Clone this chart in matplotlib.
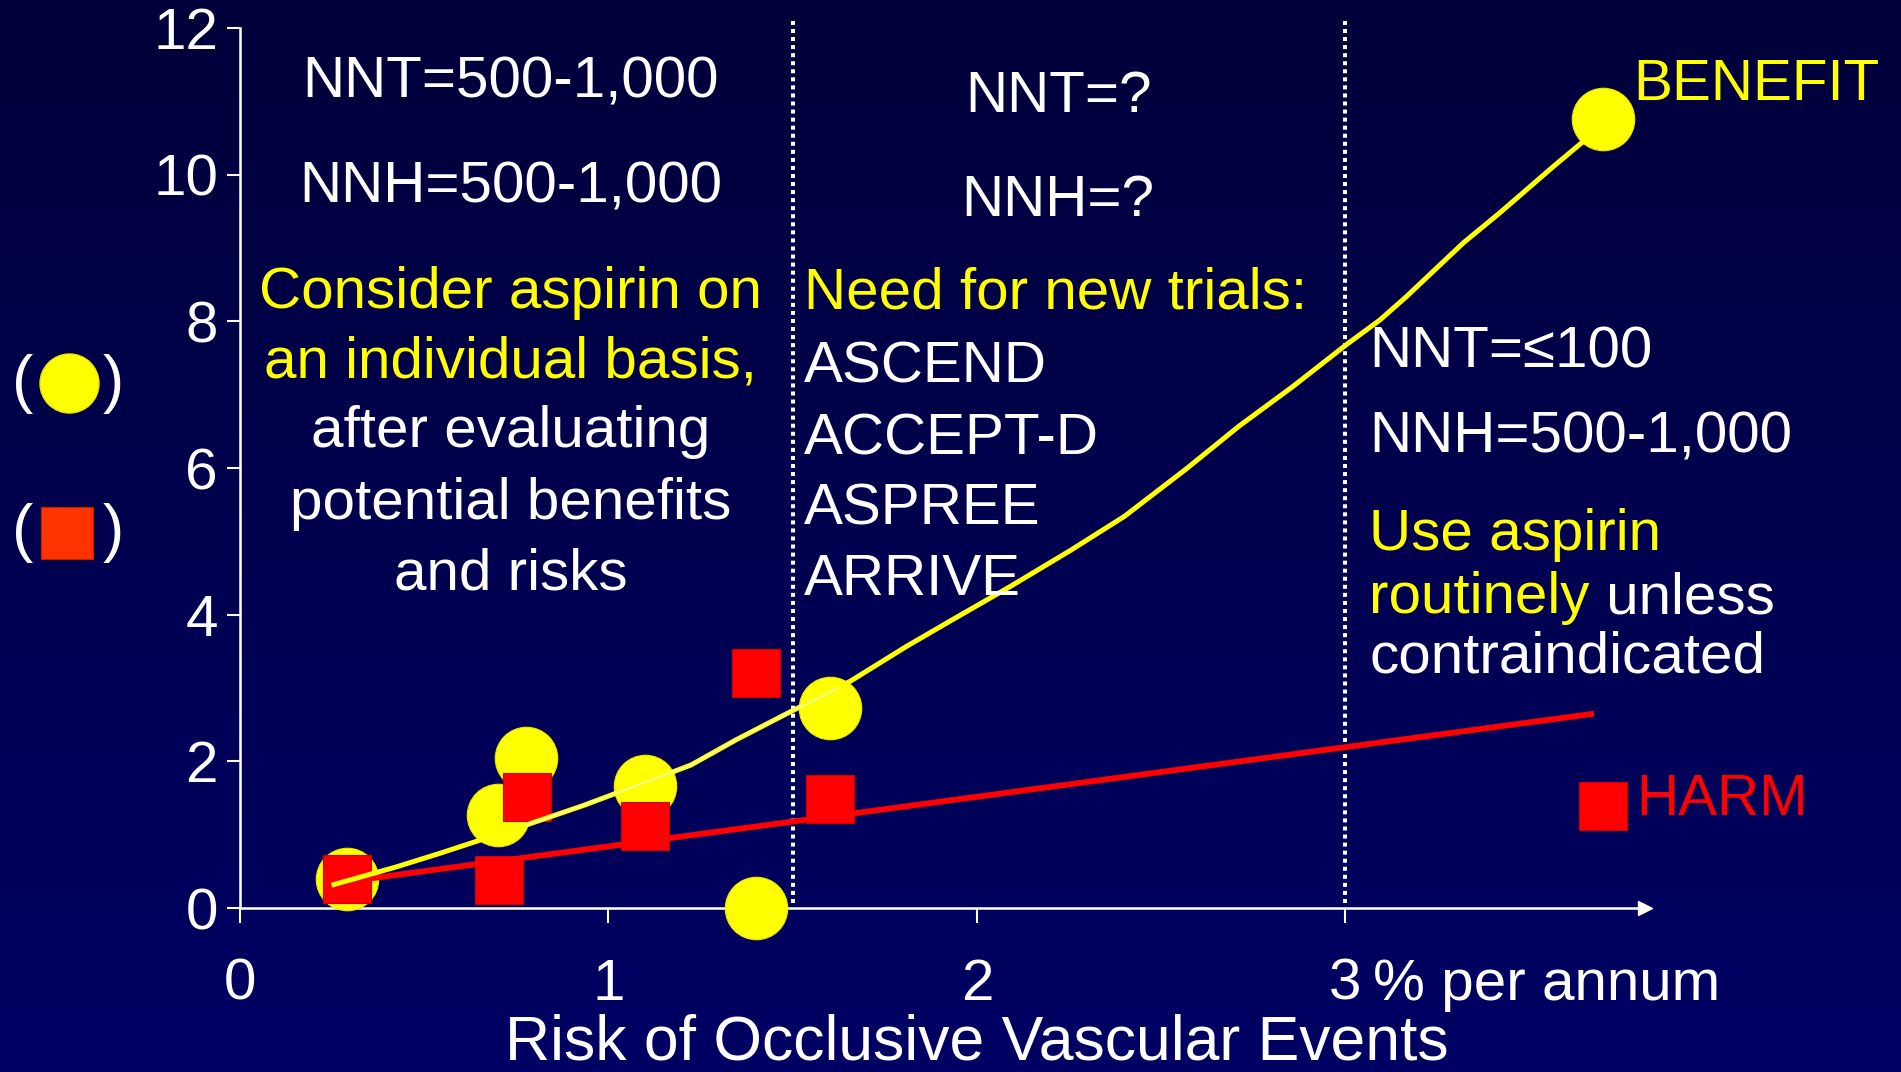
import numpy as np
import matplotlib.pyplot as plt
from matplotlib.colors import LinearSegmentedColormap

plt.rcParams['font.family'] = ['Liberation Sans', 'DejaVu Sans']

# trial points: annual risk of occlusive vascular events (%) vs events per 1,000
benefit_x = [0.29, 0.70, 0.777, 1.10, 1.40, 1.60, 3.70]
benefit_y = [0.40, 1.27, 2.04, 1.66, 0.00, 2.73, 10.76]
harm_x = [0.29, 0.703, 0.78, 1.10, 1.40, 1.60, 3.70]
harm_y = [0.40, 0.38, 1.52, 1.125, 3.21, 1.49, 1.39]

# fitted benefit curve (hand drawn) and harm regression line
benefit_fit_x = [0.255, 0.424, 0.545, 0.776, 0.933, 1.103, 1.224, 1.345, 1.503,
                 1.624, 1.662, 1.808, 1.933, 2.089, 2.255, 2.40, 2.566, 2.711,
                 2.857, 3.002, 3.094, 3.166, 3.32, 3.419, 3.564, 3.64]
benefit_fit_y = [0.32, 0.56, 0.75, 1.13, 1.40, 1.72, 1.95, 2.29, 2.70,
                 3.00, 3.11, 3.565, 3.93, 4.38, 4.88, 5.34, 5.98, 6.57,
                 7.11, 7.68, 8.02, 8.34, 9.07, 9.48, 10.11, 10.43]
harm_fit_x = [0.29, 3.675]
harm_fit_y = [0.36, 2.65]

zone_edges = [1.5, 3.0]
x_ticks = [0, 1, 2, 3]
y_ticks = [0, 2, 4, 6, 8, 10, 12]

YELLOW = '#FFFF00'
RED = '#FF0000'
W = 1901
H = 1072

fig = plt.figure(figsize=(W / 100, H / 100), dpi=100)

# dark blue slide background
bg = fig.add_axes([0, 0, 1, 1], zorder=-1)
navy = LinearSegmentedColormap.from_list('navy', ['#00003A', '#000064'])
bg.imshow(np.linspace(0, 1, 256).reshape(-1, 1), aspect='auto', cmap=navy,
          extent=[0, 1, 0, 1], origin='upper')
bg.axis('off')

ax = fig.add_axes([240 / W, 164 / H, 1405 / W, 880 / H])
ax.patch.set_alpha(0)
ax.set_xlim(0, 3.813)
ax.set_ylim(0, 12)

for side in ['top', 'right']:
    ax.spines[side].set_visible(False)
for side in ['left', 'bottom']:
    ax.spines[side].set_color('white')
    ax.spines[side].set_linewidth(1.8)
ax.plot(1, 0, marker='>', ms=10, color='white', transform=ax.transAxes, clip_on=False)

ax.set_xticks(x_ticks)
ax.set_yticks(y_ticks)
ax.tick_params(axis='both', colors='white', labelsize=42, width=1.5)
ax.tick_params(axis='y', length=9.4, pad=6.5)
ax.tick_params(axis='x', length=11, pad=25)

# zone boundaries
ax.vlines(zone_edges, 0.07, 12.14, colors='white', linewidth=2.9,
          linestyles=[(0, (1.0, 1.0))], clip_on=False, zorder=2)

# markers and fitted lines
ax.plot(benefit_x, benefit_y, 'o', ms=45, color=YELLOW, mec='#E8E800', mew=0.8,
        clip_on=False, zorder=3)
ax.plot(harm_x, harm_y, 's', ms=34, color=RED, mec='#D00000', mew=0.8,
        clip_on=False, zorder=4)
ax.plot(harm_fit_x, harm_fit_y, color=RED, lw=4.2, solid_capstyle='butt', zorder=5)
ax.plot(benefit_fit_x, benefit_fit_y, color=YELLOW, lw=3.6, zorder=6,
        solid_joinstyle='round')
ax.plot(benefit_fit_x[3:10], benefit_fit_y[3:10], color='#FFFF99', lw=1.4, zorder=7)

def label(x, y, s, color='white', ha='left', size=42):
    return ax.text(x, y, s, color=color, ha=ha, va='baseline', fontsize=size,
                   clip_on=False, zorder=8)

# low-risk zone
label(0.734, 11.05, 'NNT=500-1,000', ha='center')
label(0.734, 9.62, 'NNH=500-1,000', ha='center')
label(0.734, 8.18, 'Consider aspirin on', YELLOW, ha='center')
label(0.734, 7.23, 'an individual basis,', YELLOW, ha='center')
label(0.734, 6.28, 'after evaluating', ha='center')
label(0.734, 5.31, 'potential benefits', ha='center')
label(0.734, 4.35, 'and risks', ha='center')

# intermediate zone
label(2.22, 10.85, 'NNT=?', ha='center')
label(2.22, 9.43, 'NNH=?', ha='center')
label(1.53, 8.17, 'Need for new trials:', YELLOW)
for yy, trial in zip([7.16, 6.19, 5.23, 4.27], ['ASCEND', 'ACCEPT-D', 'ASPREE', 'ARRIVE']):
    label(1.53, yy, trial)

# high-risk zone
label(3.064, 7.37, 'NNT=≤100')
label(3.064, 6.21, 'NNH=500-1,000')
label(3.064, 4.88, 'Use aspirin', YELLOW)
routinely = label(3.064, 4.02, 'routinely', YELLOW)
ax.annotate(' unless', xy=(1, 0), xycoords=routinely, ha='left', va='bottom',
            color='white', fontsize=42, annotation_clip=False)
label(3.064, 3.21, 'contraindicated')

label(3.78, 11.02, 'BENEFIT', YELLOW)
label(3.79, 1.27, 'HARM', RED)

# axis caption
label(3.075, -1.255, '% per annum')
label(2.0, -2.06, 'Risk of Occlusive Vascular Events', ha='center', size=45)

# key for the y axis
for yc in [384, 533]:
    fig.text(23 / W, 1 - yc / H, '(', ha='center', va='center', fontsize=46, color='white')
    fig.text(113 / W, 1 - yc / H, ')', ha='center', va='center', fontsize=46, color='white')
ax.plot([69 / W], [1 - 383 / H], 'o', ms=42.5, color=YELLOW, mec='#E8E800',
        transform=fig.transFigure, clip_on=False)
ax.plot([67 / W], [1 - 533 / H], 's', ms=38, color='#FF3300', mec='#C02000',
        mew=0.8, transform=fig.transFigure, clip_on=False)

fig.savefig('out.png', dpi=100)
